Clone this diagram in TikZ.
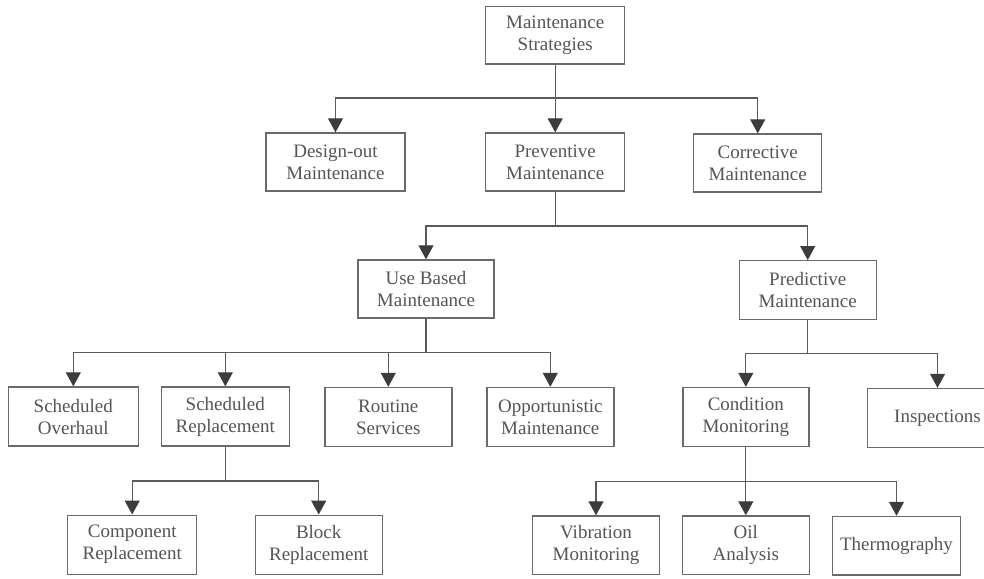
\documentclass[tikz,border=0pt]{standalone}
\usepackage{fontspec}
\setmainfont{Liberation Serif}
\usetikzlibrary{arrows.meta}
\definecolor{boxcol}{HTML}{6A6A6A}
\definecolor{txtcol}{HTML}{555555}
\definecolor{linecol}{HTML}{5A5A5A}
\definecolor{arrcol}{HTML}{3C3C3C}
\tikzset{
  box/.style={draw=boxcol, line width=1.4pt, fill=white, rectangle, align=center,
    text=txtcol, inner sep=0pt,
    font=\fontsize{19}{22}\selectfont},
  conn/.style={draw=linecol, line width=1.1pt},
  arr/.style={conn, -{Triangle[width=15pt,length=14pt,color=arrcol]}},
}
\begin{document}
\begin{tikzpicture}[x=1pt,y=-1pt]
\useasboundingbox (0,0) rectangle (984,578);
\clip (0,0) rectangle (984,578);
\fill[white] (0,0) rectangle (984,578);
% level 0
\node[box, minimum width=139pt, minimum height=57pt] (ms) at (555.2,35.3) {Maintenance\\Strategies};
% level 1
\node[box, minimum width=139pt, minimum height=58pt] (design) at (335.5,162) {Design-out\\Maintenance};
\node[box, minimum width=139pt, minimum height=58pt] (prev) at (555.2,162) {Preventive\\Maintenance};
\node[box, minimum width=128pt, minimum height=58pt] (corr) at (757.7,163) {Corrective\\Maintenance};
% level 2
\node[box, minimum width=136pt, minimum height=58pt] (use) at (426,289) {Use Based\\Maintenance};
\node[box, minimum width=137pt, minimum height=58.5pt] (pred) at (807.7,290) {Predictive\\Maintenance};
% level 3
\node[box, minimum width=130pt, minimum height=59pt] (so) at (73.3,416.5) {Scheduled\\Overhaul};
\node[box, minimum width=128pt, minimum height=59pt] (sr) at (225.3,416.5) {Scheduled\\Replacement};
\node[box, minimum width=127pt, minimum height=59pt] (rs) at (388.3,417) {Routine\\Services};
\node[box, minimum width=127pt, minimum height=59pt] (om) at (550.3,417) {Opportunistic\\Maintenance};
\node[box, minimum width=126pt, minimum height=59pt] (cm) at (745.8,417) {Condition\\Monitoring};
\node[box, minimum width=140pt, minimum height=59pt] (insp) at (937.5,418) {Inspections};
% level 4
\node[box, minimum width=129pt, minimum height=59pt] (comp) at (132.2,544.7) {Component\\Replacement};
\node[box, minimum width=127pt, minimum height=59pt] (block) at (318.7,544.7) {Block\\Replacement};
\node[box, minimum width=127pt, minimum height=58.5pt] (vib) at (596,545.2) {Vibration\\Monitoring};
\node[box, minimum width=127pt, minimum height=58.5pt] (oil) at (745.8,545.2) {Oil\\Analysis};
\node[box, minimum width=128pt, minimum height=58.5pt] (thermo) at (896.5,545.7) {Thermography};
% bus points
\coordinate (b1) at (555.2,98);
\coordinate (b2) at (555.2,226);
\coordinate (b3) at (426,352.5);
\coordinate (b4) at (807.7,353.3);
\coordinate (b5) at (225.3,481);
\coordinate (b6) at (745.8,481.5);
% connectors
\draw[conn] (ms.south) -- (b1);
\draw[arr] (b1) -| (design.north);
\draw[arr] (b1) -- (prev.north);
\draw[arr] (b1) -| (corr.north);
\draw[conn] (prev.south) -- (b2);
\draw[arr] (b2) -| (use.north);
\draw[arr] (b2) -| (pred.north);
\draw[conn] (use.south) -- (b3);
\draw[arr] (b3) -| (so.north);
\draw[arr] (b3) -| (sr.north);
\draw[arr] (b3) -| (rs.north);
\draw[arr] (b3) -| (om.north);
\draw[conn] (pred.south) -- (b4);
\draw[arr] (b4) -| (cm.north);
\draw[arr] (b4) -| (insp.north);
\draw[conn] (sr.south) -- (b5);
\draw[arr] (b5) -| (comp.north);
\draw[arr] (b5) -| (block.north);
\draw[conn] (cm.south) -- (b6);
\draw[arr] (b6) -| (vib.north);
\draw[arr] (b6) -- (oil.north);
\draw[arr] (b6) -| (thermo.north);
\end{tikzpicture}
\end{document}
